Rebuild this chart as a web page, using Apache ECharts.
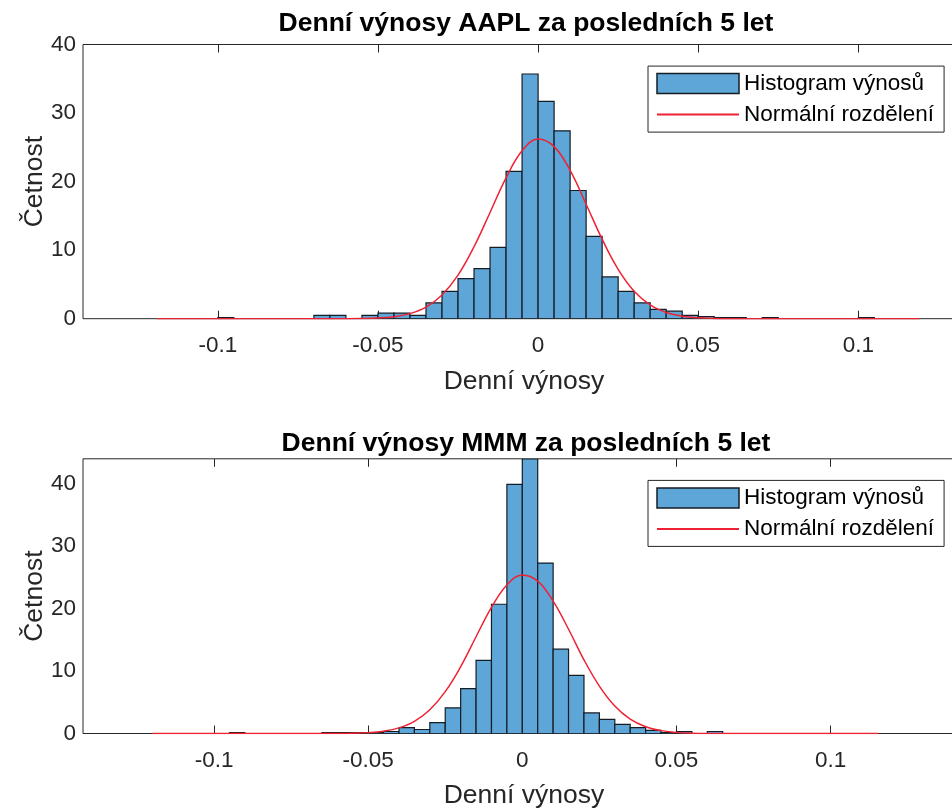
<!DOCTYPE html>
<html>
<head>
<meta charset="utf-8">
<script src="https://cdn.jsdelivr.net/npm/echarts/dist/echarts.min.js"></script>
<style>
  html, body { margin: 0; padding: 0; background: #fff; }
  #chart { width: 952px; height: 810px; }
</style>
</head>
<body>
<div id="chart"></div>
<script>
// histogram bins: left edge of each bin, width 0.005, height = pdf density
const binWidth = 0.005;

const aaplBinStart = [-0.1, -0.07, -0.065, -0.055, -0.05, -0.045, -0.04, -0.035, -0.03, -0.025,
  -0.02, -0.015, -0.01, -0.005, 0, 0.005, 0.01, 0.015, 0.02, 0.025,
  0.03, 0.035, 0.04, 0.045, 0.05, 0.055, 0.06, 0.07, 0.1];
const aaplDensity = [0.16, 0.48, 0.48, 0.48, 0.8, 0.8, 0.48, 2.3, 4.0, 5.85,
  7.3, 10.4, 21.5, 35.7, 31.7, 27.4, 18.7, 12.0, 6.1, 4.0,
  2.3, 1.35, 1.1, 0.48, 0.32, 0.16, 0.16, 0.16, 0.16];

const mmmBinStart = [-0.095, -0.065, -0.06, -0.055, -0.05, -0.045, -0.04, -0.035, -0.03, -0.025,
  -0.02, -0.015, -0.01, -0.005, 0, 0.005, 0.01, 0.015, 0.02, 0.025,
  0.03, 0.035, 0.04, 0.045, 0.05, 0.06];
const mmmDensity = [0.16, 0.16, 0.16, 0.16, 0.16, 0.32, 0.95, 0.64, 1.75, 4.1,
  7.2, 11.7, 20.7, 39.9, 44, 27.3, 13.5, 9.3, 3.3, 2.25,
  1.45, 0.95, 0.5, 0.16, 0.32, 0.32];

// normal curves
const aaplCurveX = [-0.119, -0.06, -0.055, -0.05, -0.045, -0.04, -0.035, -0.03, -0.025, -0.02,
  -0.015, -0.01, -0.005, 0, 0.005, 0.01, 0.015, 0.02, 0.025, 0.03,
  0.035, 0.04, 0.045, 0.05, 0.055, 0.06, 0.119];
const aaplCurveY = [0, 0.01, 0.03, 0.1, 0.29, 0.74, 1.69, 3.46, 6.35, 10.5,
  15.5, 20.55, 24.5, 26.2, 25.1, 21.65, 16.7, 11.6, 7.2, 4.0,
  2.0, 0.9, 0.37, 0.13, 0.04, 0.01, 0];

const mmmCurveX = [-0.12, -0.06, -0.055, -0.05, -0.045, -0.04, -0.035, -0.03, -0.025, -0.02,
  -0.015, -0.01, -0.005, 0, 0.005, 0.01, 0.015, 0.02, 0.025, 0.03,
  0.035, 0.04, 0.045, 0.05, 0.055, 0.06, 0.1155];
const mmmCurveY = [0, 0.01, 0.05, 0.14, 0.37, 0.9, 1.94, 3.8, 6.7, 10.7,
  15.5, 20.2, 23.8, 25.4, 24.4, 21.2, 16.7, 11.8, 7.6, 4.4,
  2.3, 1.09, 0.46, 0.18, 0.06, 0.02, 0];

const xTicks = [-0.1, -0.05, 0, 0.05, 0.1];
const yTicks = [0, 10, 20, 30, 40];
const titles = ['Denní výnosy AAPL za posledních 5 let', 'Denní výnosy MMM za posledních 5 let'];

const FONT = '"Liberation Sans", Arial, sans-serif';
const AXIS_COLOR = '#262626';
const BAR_FILL = '#5fa6d8';
const BAR_EDGE = '#141c24';
const CURVE_RED = '#ee2233';

const gridTops = [44.5, 458.8];
const gridHeights = [274.2, 274.7];
const titleTops = [10, 430];
const xRanges = [[-0.1421, 0.1333], [-0.1425, 0.1436]];
const yMax = [40, 44];

const histData = (starts, vals) => starts.map((s, i) => [s, +(s + binWidth).toFixed(4), vals[i]]);
const curveData = (xs, ys) => xs.map((x, i) => [x, ys[i]]);

function renderBar(params, api) {
  const top = api.coord([api.value(0), api.value(2)]);
  const base = api.coord([api.value(1), 0]);
  return {
    type: 'rect',
    shape: { x: top[0], y: top[1], width: base[0] - top[0], height: base[1] - top[1] },
    style: { fill: BAR_FILL, stroke: BAR_EDGE, lineWidth: 1.2 }
  };
}

let xAxes = [], yAxes = [];
[0, 1].forEach((gi) => {
  xAxes.push({
    type: 'value', gridIndex: gi, position: 'bottom',
    min: xRanges[gi][0], max: xRanges[gi][1],
    name: 'Denní výnosy', nameLocation: 'middle', nameGap: 49, nameMoveOverlap: false,
    nameTextStyle: { fontSize: 26.5, color: AXIS_COLOR, fontFamily: FONT },
    axisLine: { show: false },
    splitLine: { show: false },
    axisTick: { show: true, inside: true, length: 8, customValues: xTicks, lineStyle: { color: AXIS_COLOR } },
    axisLabel: { customValues: xTicks, margin: 16, fontSize: 22.5, color: AXIS_COLOR, fontFamily: FONT }
  });
  xAxes.push({
    type: 'value', gridIndex: gi, position: 'top',
    min: xRanges[gi][0], max: xRanges[gi][1],
    axisLine: { show: false },
    splitLine: { show: false },
    axisTick: { show: true, inside: true, length: 8, customValues: xTicks, lineStyle: { color: AXIS_COLOR } },
    axisLabel: { show: false }
  });
  yAxes.push({
    type: 'value', gridIndex: gi, min: 0, max: yMax[gi],
    name: 'Četnost', nameLocation: 'middle', nameGap: 35, nameMoveOverlap: false,
    nameTextStyle: { fontSize: 26.5, color: AXIS_COLOR, fontFamily: FONT },
    axisLine: { show: false },
    splitLine: { show: false },
    axisTick: { show: true, inside: true, length: 8, customValues: yTicks, lineStyle: { color: AXIS_COLOR } },
    axisLabel: { customValues: yTicks, margin: 7, fontSize: 22.5, color: AXIS_COLOR, fontFamily: FONT }
  });
});

const series = [];
[[aaplBinStart, aaplDensity, aaplCurveX, aaplCurveY], [mmmBinStart, mmmDensity, mmmCurveX, mmmCurveY]].forEach((d, gi) => {
  series.push({
    name: 'Histogram výnosů',
    type: 'custom',
    xAxisIndex: gi * 2, yAxisIndex: gi,
    renderItem: renderBar,
    clip: true,
    itemStyle: { color: BAR_FILL },
    encode: { x: [0, 1], y: 2 },
    data: histData(d[0], d[1])
  });
  series.push({
    name: 'Normální rozdělení',
    type: 'line',
    xAxisIndex: gi * 2, yAxisIndex: gi,
    smooth: 0.4,
    symbol: 'none',
    z: 5,
    lineStyle: { color: CURVE_RED, width: 1.5 },
    itemStyle: { color: CURVE_RED },
    data: curveData(d[2], d[3])
  });
});

const chart = echarts.init(document.getElementById('chart'));
chart.setOption({
  animation: false,
  backgroundColor: '#fff',
  title: [0, 1].map((gi) => ({
    text: titles[gi],
    left: 526, top: titleTops[gi], padding: 0,
    textAlign: 'center',
    textStyle: { fontSize: 26.5, fontWeight: 'bold', color: '#000', fontFamily: FONT }
  })),
  legend: [0, 1].map((gi) => ({
    orient: 'vertical',
    left: 648, top: gridTops[gi] + 21.6,
    padding: [6, 10, 6, 8],
    itemWidth: 82, itemHeight: 20,
    itemGap: 8, itemTextGap: 5,
    borderColor: AXIS_COLOR, borderWidth: 1,
    backgroundColor: '#fff',
    selectedMode: false,
    textStyle: { fontSize: 22.5, lineHeight: 20, color: '#000', fontFamily: FONT },
    data: [
      { name: 'Histogram výnosů', icon: 'rect', itemStyle: { color: BAR_FILL, borderColor: BAR_EDGE, borderWidth: 1.5 } },
      { name: 'Normální rozdělení', itemStyle: { color: 'rgba(0,0,0,0)', opacity: 0, borderWidth: 0 } }
    ]
  })),
  grid: [0, 1].map((gi) => ({
    left: 83, width: 882, top: gridTops[gi], height: gridHeights[gi],
    outerBoundsMode: 'none',
    show: true, borderColor: AXIS_COLOR, borderWidth: 1, backgroundColor: '#fff'
  })),
  xAxis: xAxes,
  yAxis: yAxes,
  series: series
});
</script>
</body>
</html>
